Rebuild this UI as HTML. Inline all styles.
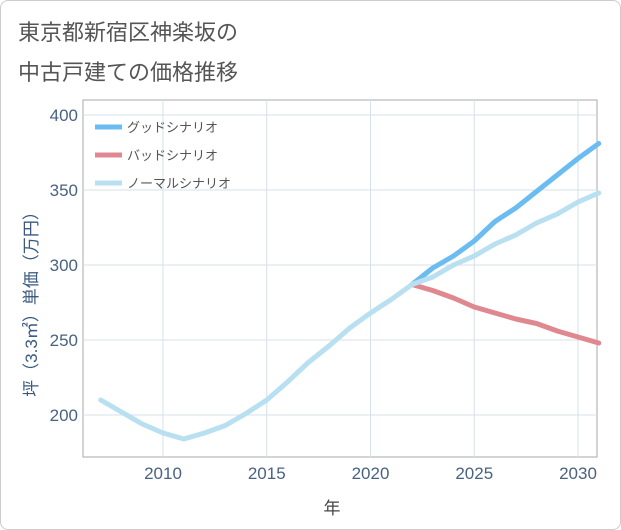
<!DOCTYPE html>
<html><head><meta charset="utf-8"><style>
body{margin:0;background:#fff;font-family:"Liberation Sans","Noto Sans CJK JP",sans-serif}
#card{position:absolute;left:0;top:0;width:619px;height:528px;border:1px solid #ccc;border-radius:8px;background:#fff}
</style></head><body>
<div id="card">
<svg id="chart" width="621" height="530" style="position:absolute;left:-1px;top:-1px">
<text x="18" y="40" font-size="22" fill="#555">東京都新宿区神楽坂の</text>
<text x="18" y="80" font-size="22" fill="#555">中古戸建ての価格推移</text>
<rect x="83" y="100" width="514" height="357" fill="none" stroke="#aaa"/>
<g id="grid"></g><g id="series"></g><g id="legend"></g>
<text x="332" y="514" font-size="17" fill="#444" text-anchor="middle">年</text>
<text transform="translate(37,300) rotate(-90)" font-size="17" fill="#3a5a80" text-anchor="middle">坪（3.3㎡）単価（万円）</text>
</svg></div>
<script>
const years=[2007,2008,2009,2010,2011,2012,2013,2014,2015,2016,2017,2018,2019,2020,2021,2022,2023,2024,2025,2026,2027,2028,2029,2030,2031];
const normalVals=[210,202,194,188,184,188,193,201,210,222,235,246,258,268,277,287,292,300,306,314,320,328,334,342,348];
const futureYears=[2022,2023,2024,2025,2026,2027,2028,2029,2030,2031];
const goodVals=[287,298,306,316,329,338,349,360,371,381];
const badVals=[287,283,278,272,268,264,261,256,252,248];
const xTicks=[2010,2015,2020,2025,2030];
const yTicks=[200,250,300,350,400];
const X=y=>163+(y-2010)*20.75, Y=v=>415-(v-200)*1.5;
const ns="http://www.w3.org/2000/svg";
function mk(t,a,p){const e=document.createElementNS(ns,t);for(const k in a)e.setAttribute(k,a[k]);p.appendChild(e);return e;}
const g=document.getElementById('grid');
xTicks.forEach(t=>{const l=mk('line',{x1:X(t),x2:X(t),y1:100,y2:457,stroke:'#d5e0ea'},g);

const tx=mk('text',{x:X(t),y:479,'font-size':17,fill:'#4a6282','text-anchor':'middle'},g);tx.textContent=t;
});
yTicks.forEach(t=>{const l=mk('line',{x1:83,x2:597,y1:Y(t),y2:Y(t),stroke:'#d5e0ea'},g);

const tx=mk('text',{x:78,y:Y(t)+6,'font-size':17,fill:'#4a6282','text-anchor':'end'},g);tx.textContent=t;
});
const s=document.getElementById('series');
function line(xs,vs,c,name){const p=mk('polyline',{points:xs.map((x,i)=>X(x)+','+Y(vs[i])).join(' '),fill:'none',stroke:c,'stroke-width':5,'stroke-linejoin':'round','stroke-linecap':'round'},s);
}
line(futureYears,badVals,'#e08890','bad-scenario-line');
line(futureYears,goodVals,'#6bbcf0','good-scenario-line');
line(years,normalVals,'#b8e0f0','normal-scenario-line');
const lg=document.getElementById('legend');
[['グッドシナリオ','#6bbcf0','legend-good'],['バッドシナリオ','#e08890','legend-bad'],['ノーマルシナリオ','#b8e0f0','legend-normal']].forEach((d,i)=>{
const y=127+i*28;const l=mk('line',{x1:95,x2:122,y1:y,y2:y,stroke:d[1],'stroke-width':5},lg);

const t=mk('text',{x:127,y:y+5,'font-size':13,fill:'#555'},lg);t.textContent=d[0];
});
</script></body></html>
